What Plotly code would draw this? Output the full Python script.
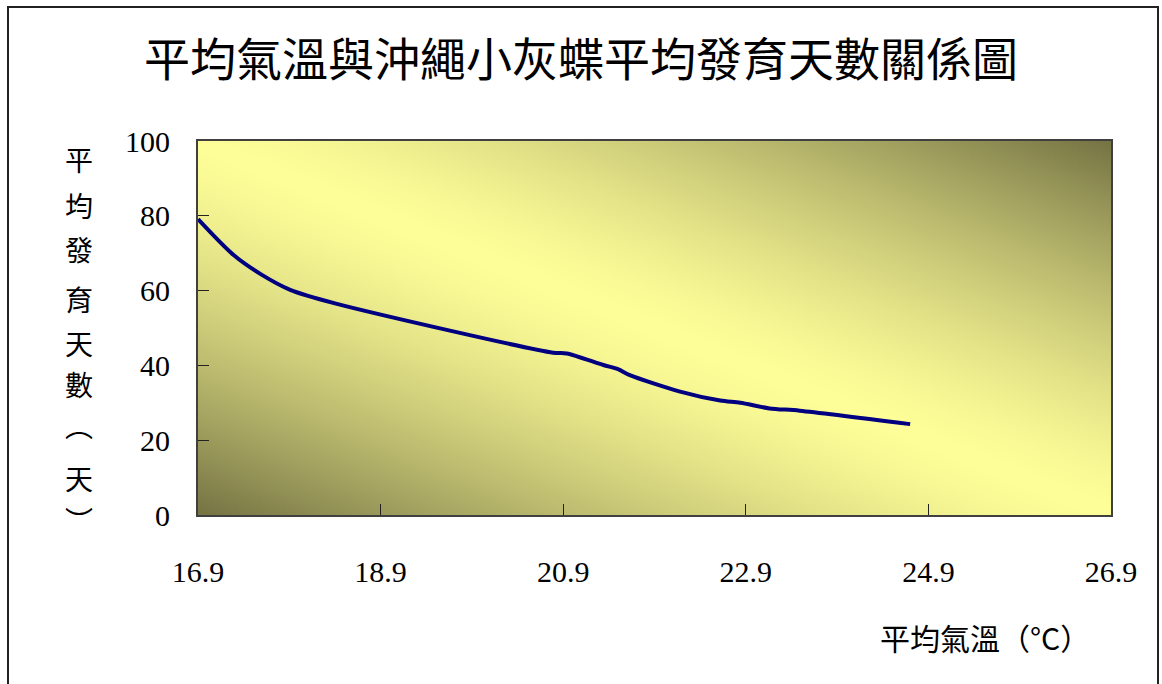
import base64
import struct
import zlib

import numpy as np
import plotly.graph_objects as go

# Mean temperature (°C) and mean development time (days)
temperature = [16.9, 17.29, 17.6, 17.91, 18.4, 20.79, 20.94, 21.34, 21.5,
               21.63, 22.18, 22.62, 22.84, 23.16, 23.49, 24.7]
dev_days = [79.1, 69.5, 64.2, 60.2, 56.6, 43.4, 43.2, 40.1, 39.0,
            37.4, 33.0, 30.6, 30.0, 28.5, 27.9, 24.3]

x_ticks = [16.9, 18.9, 20.9, 22.9, 24.9, 26.9]
y_ticks = [0, 20, 40, 60, 80, 100]

TITLE = "平均氣溫與沖繩小灰蝶平均發育天數關係圖"
Y_TITLE_CHARS = ["平", "均", "發", "育", "天", "數", "︵", "天", "︶"]
X_TITLE = "平均氣溫（°C）"

W, H = 1162, 684
L, R, T, B = 198, 1111, 141, 515  # plot area in pixels

CJK = "Noto Sans CJK TC, Noto Sans CJK SC, sans-serif"
SERIF = "Liberation Serif, Times New Roman, serif"


def png_uri(rgb):
    """Encode an HxWx3 uint8 array as a PNG data URI."""
    h, w, _ = rgb.shape
    raw = b"".join(b"\x00" + rgb[r].tobytes() for r in range(h))

    def chunk(tag, data):
        return (struct.pack(">I", len(data)) + tag + data
                + struct.pack(">I", zlib.crc32(tag + data) & 0xFFFFFFFF))

    png = (b"\x89PNG\r\n\x1a\n"
           + chunk(b"IHDR", struct.pack(">IIBBBBB", w, h, 8, 2, 0, 0, 0))
           + chunk(b"IDAT", zlib.compress(raw, 9))
           + chunk(b"IEND", b""))
    return "data:image/png;base64," + base64.b64encode(png).decode()


# Diagonal two-tone fill for the plotting area: pale yellow band from
# top-left to bottom-right, olive towards the other two corners.
gw, gh = 460, 190
xn = np.linspace(0, 1, gw)[None, :]
yn = np.linspace(1, 0, gh)[:, None]
d = np.abs(xn + yn - 1.0) ** 1.4
light = np.array([255, 255, 153], dtype=float)
dark = np.array([118, 116, 68], dtype=float)
grad = light + (dark - light) * d[..., None]
grad_img = np.clip(grad, 0, 255).astype(np.uint8)

fig = go.Figure()
fig.add_trace(go.Scatter(
    x=temperature, y=dev_days, mode="lines",
    line=dict(color="#000080", width=4, shape="spline", smoothing=0.8),
    hoverinfo="x+y", showlegend=False,
))


def px_x(p):
    return (p - L) / (R - L)


def px_y(p):
    return (B - p) / (B - T)


annotations = []
# vertical axis title, one character per row
y_char_pos = [159, 205, 249, 299, 343, 384, 425, 478, 520]
for ch, py in zip(Y_TITLE_CHARS, y_char_pos):
    annotations.append(dict(
        text=ch, xref="paper", yref="paper", x=px_x(79), y=px_y(py),
        xanchor="center", yanchor="middle", showarrow=False,
        font=dict(family=CJK, size=28, color="#000000"),
    ))
annotations.append(dict(
    text=X_TITLE, xref="paper", yref="paper", x=px_x(985), y=px_y(637),
    xanchor="center", yanchor="middle", showarrow=False,
    font=dict(family=CJK, size=30, color="#000000"),
))

fig.update_layout(
    width=W, height=H,
    margin=dict(l=L, r=W - R, t=T, b=H - B, pad=0),
    paper_bgcolor="#ffffff",
    plot_bgcolor="#ffff99",
    title=dict(
        text=TITLE, x=0.5, xref="container", xanchor="center",
        y=1 - 60 / H, yref="container", yanchor="middle",
        font=dict(family=CJK, size=46, color="#000000"),
    ),
    images=[dict(
        source=png_uri(grad_img), xref="paper", yref="paper",
        x=0, y=1, sizex=1, sizey=1, sizing="stretch",
        xanchor="left", yanchor="top", layer="below",
    )],
    annotations=annotations,
    shapes=[dict(
        type="rect", xref="paper", yref="paper",
        x0=px_x(8), x1=px_x(1158), y0=px_y(720), y1=px_y(7),
        line=dict(color="#222222", width=2), fillcolor="rgba(0,0,0,0)",
        layer="above",
    )],
    xaxis=dict(
        range=[16.9, 26.9], tickmode="array", tickvals=x_ticks,
        ticktext=[f"{v:.1f}" for v in x_ticks],
        ticks="inside", ticklen=11, tickwidth=1, tickcolor="#222222",
        showline=True, linecolor="#404040", linewidth=2, mirror=True,
        showgrid=False, zeroline=False,
        tickfont=dict(family=SERIF, size=30, color="#000000"),
        ticklabelstandoff=29,
    ),
    yaxis=dict(
        range=[0, 100], tickmode="array", tickvals=y_ticks,
        ticks="inside", ticklen=11, tickwidth=1, tickcolor="#222222",
        showline=True, linecolor="#404040", linewidth=2, mirror=True,
        showgrid=False, zeroline=False,
        tickfont=dict(family=SERIF, size=30, color="#000000"),
        ticklabelstandoff=20,
    ),
)

fig.write_html("out.html")
